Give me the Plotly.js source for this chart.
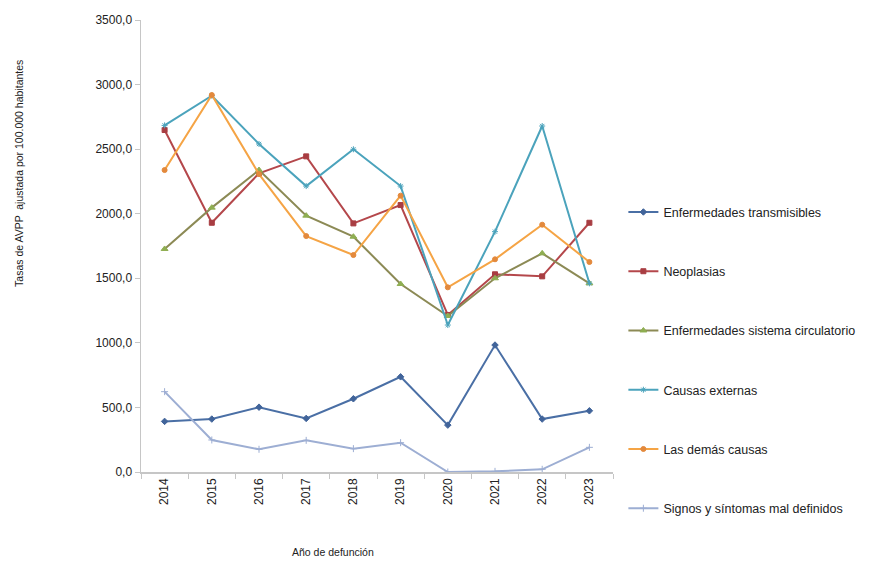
<!DOCTYPE html>
<html>
<head>
<meta charset="utf-8">
<script src="https://cdn.plot.ly/plotly-3.0.1.min.js"></script>
<style>
  html, body { margin: 0; padding: 0; background: #fff; }
  #chart { width: 869px; height: 561px; }
</style>
</head>
<body>
<div id="chart"></div>
<script>
// Años de defunción
const years = ['2014','2015','2016','2017','2018','2019','2020','2021','2022','2023'];

// Tasas de AVPP ajustadas por 100.000 habitantes, por grupo de causas
const transmisibles = [392, 410, 502, 415, 567, 737, 363, 983, 410, 474];
const neoplasias    = [2648, 1930, 2313, 2444, 1925, 2067, 1216, 1531, 1515, 1930];
const circulatorio  = [1727, 2047, 2338, 1985, 1822, 1456, 1208, 1500, 1693, 1461];
const externas      = [2684, 2914, 2540, 2214, 2499, 2214, 1138, 1861, 2679, 1461];
const demas         = [2338, 2919, 2307, 1827, 1680, 2140, 1430, 1647, 1915, 1626];
const signos        = [622, 248, 176, 245, 181, 227, 0, 5, 21, 191];

const seriesNames = [
  'Enfermedades transmisibles',
  'Neoplasias',
  'Enfermedades sistema circulatorio',
  'Causas externas',
  'Las demás causas',
  'Signos y síntomas mal definidos'
];

const styles = [
  { line: '#4A6FA5', marker: '#41649A', symbol: 'diamond', size: 5 },
  { line: '#B4474B', marker: '#A83D42', symbol: 'square', size: 5 },
  { line: '#8C8A55', marker: '#8FAE52', symbol: 'triangle-up', size: 6 },
  { line: '#4BA3BC', marker: '#4BA3BC', symbol: 'asterisk-open', size: 5 },
  { line: '#F5A445', marker: '#E3893C', symbol: 'circle', size: 5 },
  { line: '#9DAED3', marker: '#9DAED3', symbol: 'cross-thin-open', size: 5 }
];

const values = [transmisibles, neoplasias, circulatorio, externas, demas, signos];

const traces = values.map((v, i) => ({
  x: years,
  y: v,
  name: seriesNames[i],
  legendgroup: 'g' + i,
  type: 'scatter',
  mode: 'lines+markers',
  line: { color: styles[i].line, width: 2 },
  marker: {
    color: styles[i].marker,
    symbol: styles[i].symbol,
    size: styles[i].size,
    line: { color: styles[i].marker, width: 1 }
  }
}));

const layout = {
  width: 869,
  height: 561,
  margin: { l: 141, r: 256, t: 20, b: 89, autoexpand: false },
  paper_bgcolor: '#ffffff',
  plot_bgcolor: '#ffffff',
  separators: ',.',
  font: { family: 'Liberation Sans, Arial, sans-serif', size: 12, color: '#222' },
  showlegend: true,
  legend: {
    x: 1.022,
    y: 0.247,
    xanchor: 'left',
    yanchor: 'middle',
    tracegroupgap: 40,
    itemwidth: 30,
    font: { size: 12.5, color: '#222' },
    bgcolor: 'rgba(0,0,0,0)'
  },
  xaxis: {
    type: 'category',
    showgrid: false,
    zeroline: false,
    showline: true,
    linecolor: '#C6C6C6',
    linewidth: 1.5,
    ticks: 'outside',
    tickson: 'boundaries',
    ticklen: 5,
    tickcolor: '#C6C6C6',
    tickangle: -90,
    tickfont: { size: 12, color: '#222' },
    range: [-0.5, 9.5]
  },
  yaxis: {
    range: [0, 3500],
    tickvals: [0, 500, 1000, 1500, 2000, 2500, 3000, 3500],
    tickformat: '.1f',
    showgrid: false,
    zeroline: false,
    showline: true,
    linecolor: '#C6C6C6',
    linewidth: 1.5,
    ticks: 'outside',
    ticklen: 5,
    tickcolor: '#C6C6C6',
    tickfont: { size: 12, color: '#222' }
  },
  annotations: [
    {
      text: 'Tasas de AVPP  ajustada por 100.000 habitantes',
      xref: 'paper', yref: 'paper',
      x: -0.26, y: 0.66,
      xanchor: 'center', yanchor: 'middle',
      textangle: -90,
      showarrow: false,
      font: { size: 10.5, color: '#222' }
    },
    {
      text: 'Año de defunción',
      xref: 'paper', yref: 'paper',
      x: 0.407, y: -0.178,
      xanchor: 'center', yanchor: 'middle',
      showarrow: false,
      font: { size: 10.5, color: '#222' }
    }
  ]
};

Plotly.newPlot('chart', traces, layout, { displayModeBar: false, staticPlot: true });
</script>
</body>
</html>
